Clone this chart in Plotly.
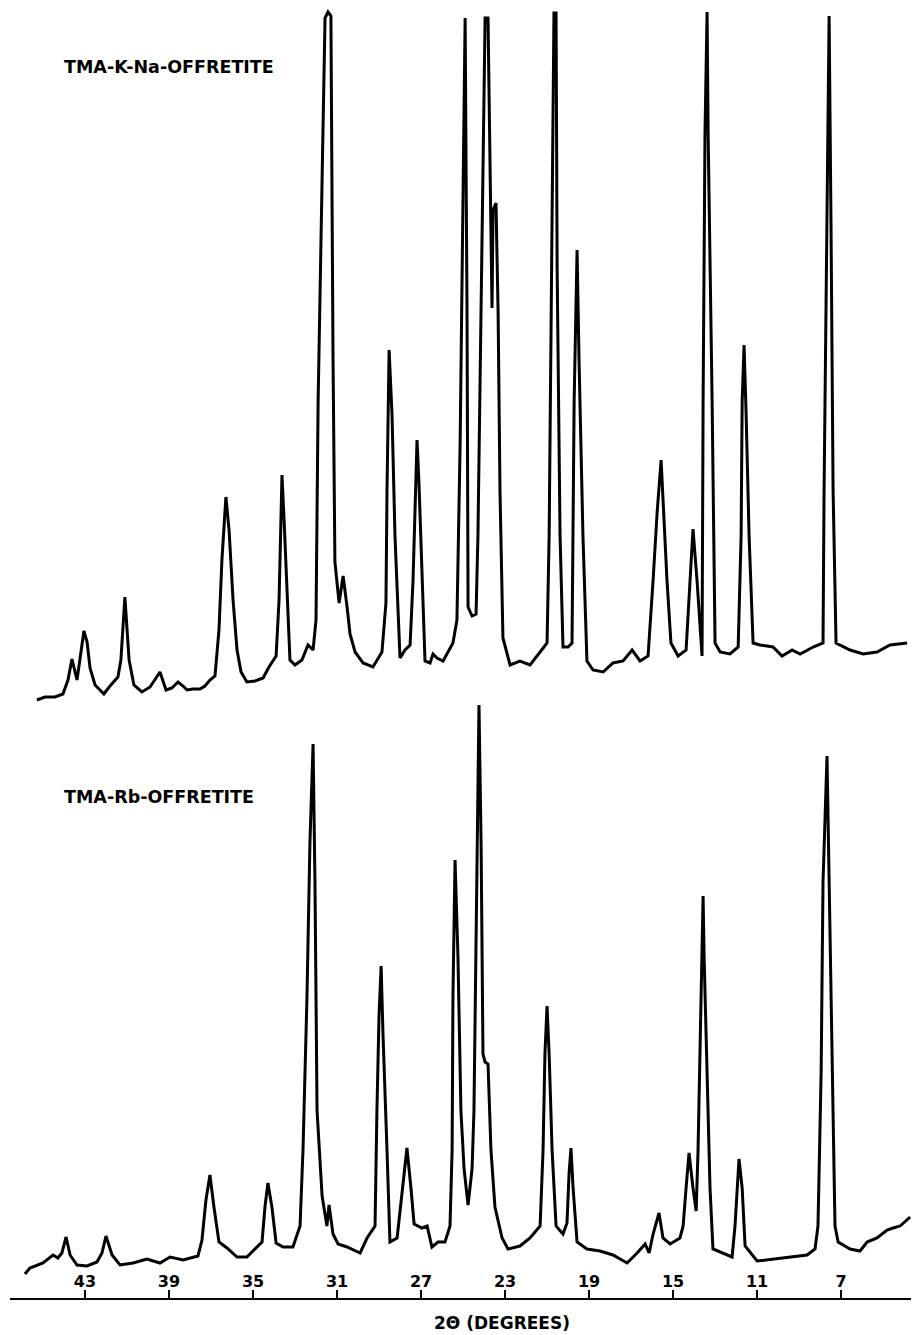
import plotly.graph_objects as go

# ---- TMA-K-Na-OFFRETITE (upper pattern) ----
knna_2theta = [45.29, 44.90, 44.43, 44.05, 43.81, 43.62, 43.38, 43.24, 43.05, 42.90, 42.76, 42.52, 42.10,
               41.81, 41.43, 41.29, 41.10, 40.90, 40.67, 40.29, 39.90, 39.43, 39.14, 38.86, 38.57, 38.33,
               38.14, 37.86, 37.52, 37.29, 37.05, 36.81, 36.62, 36.48, 36.29, 36.14, 35.95, 35.76, 35.57,
               35.29, 34.90, 34.52, 34.24, 33.90, 33.76, 33.67, 33.62, 33.52, 33.38, 33.24, 33.00, 32.67,
               32.38, 32.14, 32.00, 31.90, 31.71, 31.57, 31.43, 31.29, 31.19, 31.10, 30.90, 30.71, 30.52,
               30.38, 30.14, 29.76, 29.29, 28.86, 28.67, 28.62, 28.52, 28.38, 28.24, 28.00, 27.76, 27.52,
               27.38, 27.24, 27.19, 27.10, 26.95, 26.81, 26.57, 26.43, 26.24, 25.95, 25.48, 25.29, 25.14,
               25.00, 24.90, 24.81, 24.76, 24.57, 24.38, 24.29, 24.10, 23.95, 23.81, 23.71, 23.62, 23.57,
               23.43, 23.33, 23.24, 23.10, 22.76, 22.29, 21.81, 21.33, 21.00, 20.90, 20.76, 20.67, 20.57,
               20.52, 20.38, 20.24, 20.00, 19.81, 19.71, 19.57, 19.48, 19.29, 19.10, 18.81, 18.33, 17.86,
               17.38, 16.95, 16.57, 16.19, 15.95, 15.76, 15.57, 15.48, 15.29, 15.10, 14.76, 14.38, 14.19,
               14.05, 13.86, 13.71, 13.62, 13.57, 13.48, 13.38, 13.33, 13.14, 13.00, 12.76, 12.29, 11.90,
               11.76, 11.71, 11.62, 11.52, 11.38, 11.19, 10.86, 10.24, 9.81, 9.33, 8.95, 8.33, 7.86, 7.81,
               7.67, 7.57, 7.48, 7.38, 7.24, 6.57, 5.95, 5.29, 4.67, 3.86]
knna_intensity = [20, 23, 23, 26, 40, 61, 40, 60, 89, 78, 52, 35, 26,
                  34, 43, 60, 123, 60, 35, 28, 33, 48, 30, 32, 38, 34,
                  30, 31, 31, 34, 40, 44, 90, 160, 223, 190, 120, 70, 48,
                  38, 39, 42, 53, 64, 120, 200, 245, 200, 120, 60, 55, 60,
                  75, 70, 100, 318, 541, 702, 708, 704, 363, 158, 117, 144, 113,
                  86, 68, 57, 53, 68, 117, 229, 370, 305, 184, 62, 70, 75,
                  140, 229, 280, 238, 140, 59, 57, 66, 62, 59, 77, 100, 274,
                  497, 702, 408, 113, 104, 106, 184, 452, 702, 702, 541, 412, 510,
                  517, 408, 229, 82, 55, 59, 55, 68, 77, 184, 497, 707, 707,
                  452, 184, 73, 73, 77, 318, 470, 363, 184, 59, 50, 48, 57,
                  59, 70, 59, 64, 140, 207, 260, 220, 140, 77, 64, 70, 140,
                  191, 140, 86, 64, 318, 586, 708, 586, 318, 77, 68, 66, 73,
                  184, 318, 375, 305, 184, 77, 75, 73, 64, 70, 66, 73, 77, 229,
                  497, 704, 497, 229, 77, 70, 66, 68, 75, 77]

# ---- TMA-Rb-OFFRETITE (lower pattern) ----
rb_2theta = [45.86, 45.62, 45.00, 44.52, 44.29, 44.10, 43.90, 43.71, 43.38, 42.90, 42.43, 42.19, 42.00,
             41.71, 41.33, 40.71, 40.05, 39.43, 38.95, 38.33, 37.62, 37.43, 37.24, 37.05, 36.86, 36.62,
             36.24, 35.76, 35.29, 34.81, 34.57, 34.43, 34.29, 34.10, 33.90, 33.57, 33.10, 32.76, 32.62,
             32.43, 32.29, 32.14, 32.05, 31.95, 31.71, 31.48, 31.38, 31.19, 30.95, 30.52, 29.90, 29.57,
             29.19, 29.10, 29.00, 28.90, 28.81, 28.62, 28.48, 28.14, 27.86, 27.67, 27.48, 27.33, 26.95,
             26.71, 26.48, 26.19, 25.86, 25.62, 25.52, 25.48, 25.38, 25.24, 25.10, 24.95, 24.76, 24.57,
             24.48, 24.38, 24.24, 24.14, 24.05, 23.95, 23.81, 23.67, 23.48, 23.14, 22.86, 22.29, 21.81,
             21.33, 21.19, 21.10, 21.00, 20.90, 20.76, 20.57, 20.24, 20.05, 19.95, 19.86, 19.76, 19.57,
             19.10, 18.48, 17.86, 17.19, 16.71, 16.33, 16.14, 15.95, 15.67, 15.48, 15.14, 14.67, 14.52,
             14.38, 14.24, 14.05, 13.90, 13.81, 13.71, 13.62, 13.57, 13.52, 13.38, 13.24, 13.10, 12.62,
             12.19, 12.05, 11.95, 11.86, 11.71, 11.57, 11.00, 10.24, 9.43, 8.62, 8.24, 8.10, 7.95, 7.86,
             7.67, 7.57, 7.43, 7.29, 7.14, 6.57, 6.10, 5.76, 5.29, 4.81, 4.52, 4.19, 3.71]
rb_intensity = [24, 30, 35, 43, 40, 45, 61, 43, 33, 32, 36, 45, 62,
                43, 33, 35, 39, 35, 41, 38, 42, 58, 98, 123, 91, 56,
                50, 41, 41, 51, 56, 91, 115, 91, 55, 51, 51, 72, 148,
                301, 455, 554, 416, 187, 102, 72, 93, 64, 54, 51, 45, 60,
                72, 187, 282, 332, 263, 148, 56, 60, 110, 150, 110, 74, 70,
                72, 51, 56, 56, 72, 148, 301, 438, 340, 187, 129, 93, 129,
                187, 378, 593, 455, 244, 236, 234, 148, 91, 60, 49, 52, 60,
                72, 148, 244, 292, 244, 148, 72, 64, 75, 125, 150, 110, 56,
                49, 47, 43, 35, 45, 54, 45, 64, 85, 60, 54, 60, 72,
                110, 145, 110, 87, 148, 263, 378, 402, 340, 225, 110, 49, 45,
                41, 72, 110, 139, 110, 52, 37, 39, 41, 43, 49, 72, 225, 416,
                542, 416, 225, 72, 56, 49, 47, 56, 60, 68, 70, 72, 81]

tick_values = [43, 39, 35, 31, 27, 23, 19, 15, 11, 7]
tick_labels = ["43", "39", "35", "31", "27", "23", "19", "15", "11", "7"]
series_names = ["TMA-K-Na-OFFRETITE", "TMA-Rb-OFFRETITE"]
x_title = "2\u0398 (DEGREES)"

bold_font = dict(family="DejaVu Sans", color="black", weight="bold")

fig = go.Figure()
fig.add_trace(go.Scatter(x=rb_2theta, y=rb_intensity, mode="lines", name=series_names[1],
                         line=dict(color="black", width=3), yaxis="y"))
fig.add_trace(go.Scatter(x=knna_2theta, y=knna_intensity, mode="lines", name=series_names[0],
                         line=dict(color="black", width=3), yaxis="y2"))

fig.update_layout(
    width=911, height=1327,
    margin=dict(l=2, r=0, t=0, b=37),
    paper_bgcolor="white", plot_bgcolor="white",
    showlegend=False,
    xaxis=dict(range=[46.57, 3.29], tickvals=tick_values, ticktext=tick_labels,
               ticks="inside", ticklen=8, tickwidth=2, tickcolor="black",
               ticklabelposition="inside",
               tickfont=dict(size=16, **bold_font),
               showline=True, linecolor="black", linewidth=2, showgrid=False, zeroline=False),
    yaxis=dict(range=[0, 1290], visible=False, showgrid=False, zeroline=False),
    yaxis2=dict(range=[-578, 712], overlaying="y", visible=False, showgrid=False, zeroline=False),
    annotations=[
        dict(text=series_names[0], xref="paper", yref="paper", x=0.0575, y=0.9543,
             xanchor="left", yanchor="middle", showarrow=False, font=dict(size=17.5, **bold_font)),
        dict(text=series_names[1], xref="paper", yref="paper", x=0.0575, y=0.388,
             xanchor="left", yanchor="middle", showarrow=False, font=dict(size=17.5, **bold_font)),
        dict(text=x_title, xref="paper", yref="paper", x=0.541, y=0, yshift=-25,
             xanchor="center", yanchor="middle", showarrow=False, font=dict(size=17, **bold_font)),
    ],
)

fig.write_html("out.html")
